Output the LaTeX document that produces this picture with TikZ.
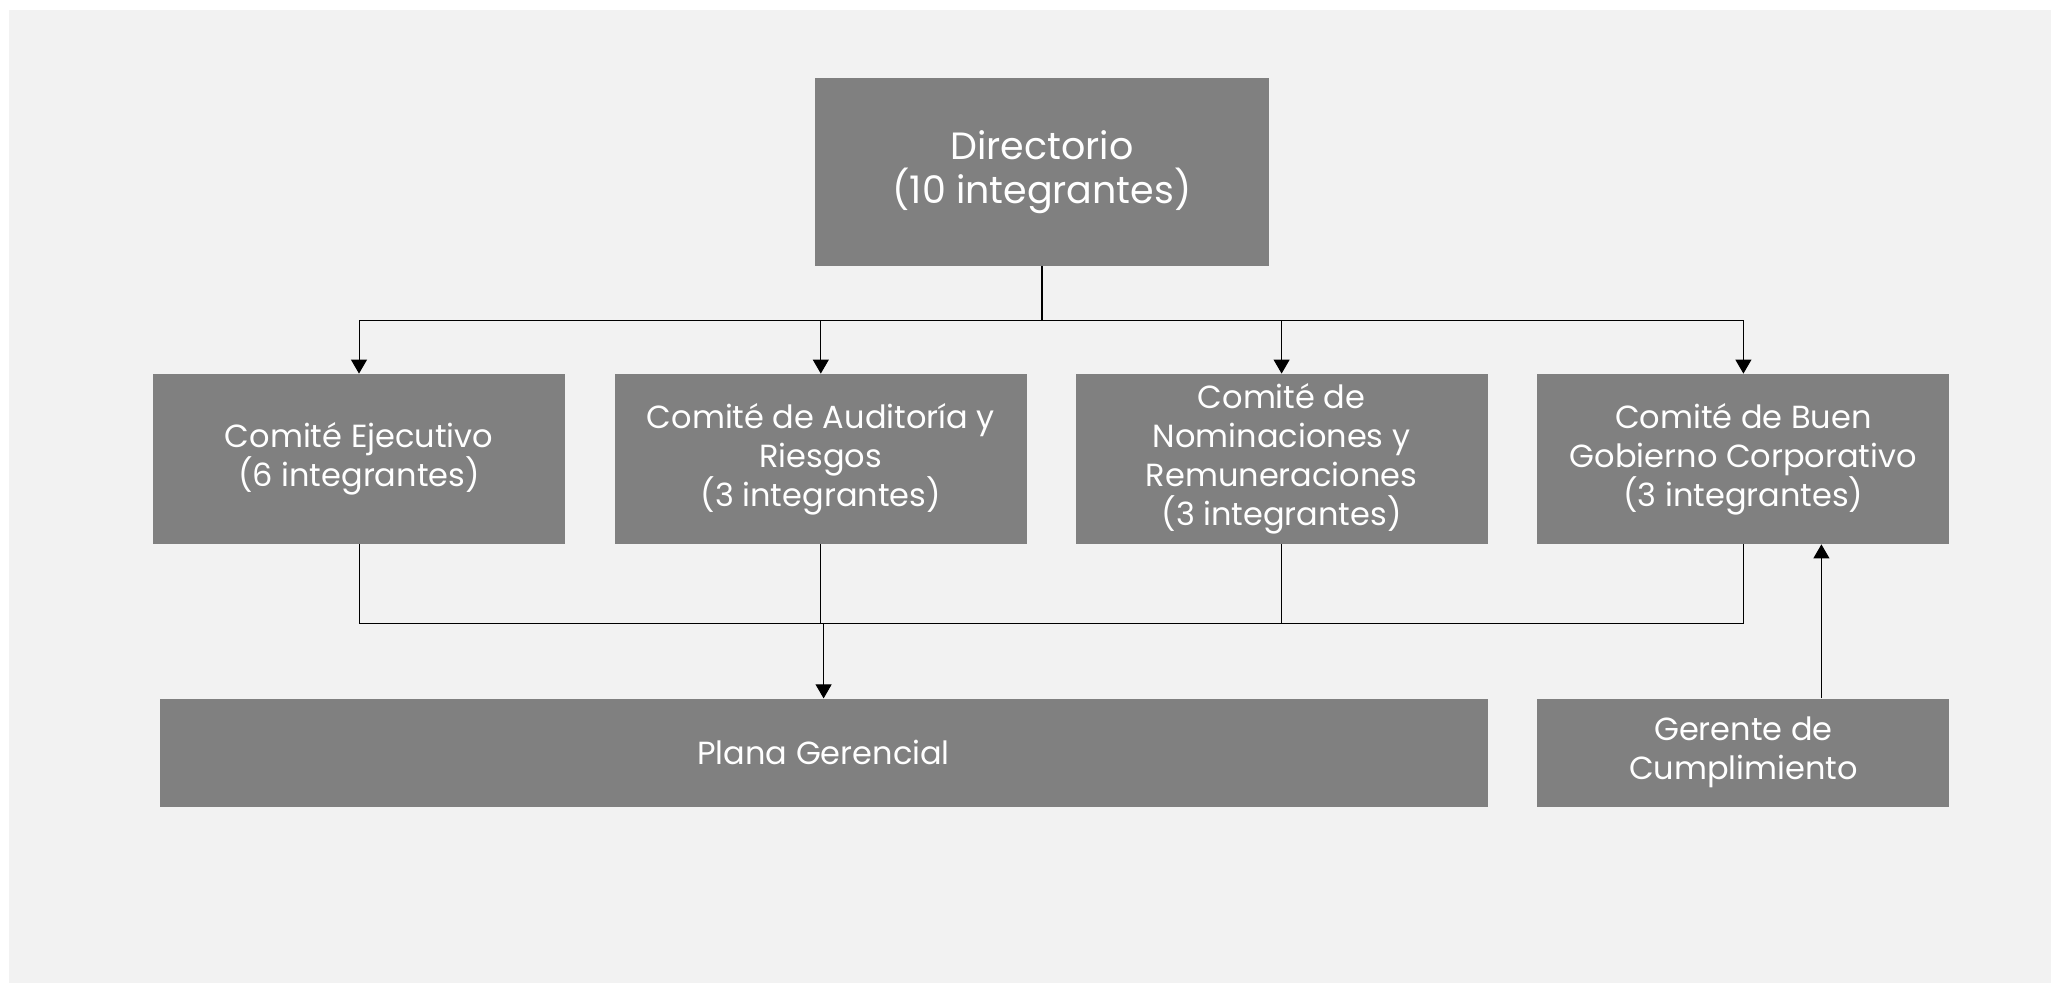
\documentclass[tikz,border=0pt]{standalone}
\usepackage{fontspec}
\setmainfont{Poppins}
\usetikzlibrary{arrows.meta, positioning, calc}

\definecolor{boxgray}{HTML}{808080}
\definecolor{bggray}{HTML}{F2F2F2}

\begin{document}
\begin{tikzpicture}[
    x=0.5pt, y=-0.5pt,
    box/.style={rectangle, fill=boxgray, text=white, inner sep=2pt, align=center,
        minimum width=206pt, minimum height=85pt, font=\fontsize{16}{19.5}\selectfont},
    line/.style={line width=0.5pt, black},
    arrow/.style={line width=0.5pt, black, -{Triangle[width=8pt,length=7pt]}}
]
    % background
    \useasboundingbox (0,0) rectangle (2051,983);
    \fill[bggray] (9,10) rectangle (2051,983);

    \node[box, minimum width=227pt, minimum height=94pt, font=\fontsize{19}{22}\selectfont] (dir) at (1042,172) {Directorio\\(10 integrantes)};

    \node[box] (ejec) at (359,459) {Comité Ejecutivo\\(6 integrantes)};
    \node[box, right=24.5pt of ejec] (aud) {Comité de Auditoría y\\Riesgos\\(3 integrantes)};
    \node[box, right=24pt of aud] (nom) {Comité de\\Nominaciones y\\Remuneraciones\\(3 integrantes)};
    \node[box, right=24.5pt of nom] (buen) {Comité de Buen\\Gobierno Corporativo\\(3 integrantes)};

    \node[box, minimum height=54pt, below=77pt of buen] (ger) {Gerente de\\Cumplimiento};
    \node[box, minimum width=664pt, minimum height=54pt, anchor=east] (plana) at (nom.east |- ger.east) {Plana Gerencial};

    \path (dir.south) ++(0,54) coordinate (hub);
    \path (plana.north) ++(0,-75) coordinate (join);

    \draw[line, line width=1pt] (dir.south) -- (hub);
    \draw[arrow] (hub) -| (ejec.north);
    \draw[arrow] (hub) -| (aud.north);
    \draw[arrow] (hub) -| (nom.north);
    \draw[arrow] (hub) -| (buen.north);

    \draw[line] (ejec.south) |- (join);
    \draw[line] (aud.south) |- (join);
    \draw[line] (nom.south) |- (join);
    \draw[line] (buen.south) |- (join);
    \draw[arrow] (join) -- (plana.north);

    \draw[arrow] ([xshift=39pt]ger.north) -- ([xshift=39pt]buen.south);
\end{tikzpicture}
\end{document}
